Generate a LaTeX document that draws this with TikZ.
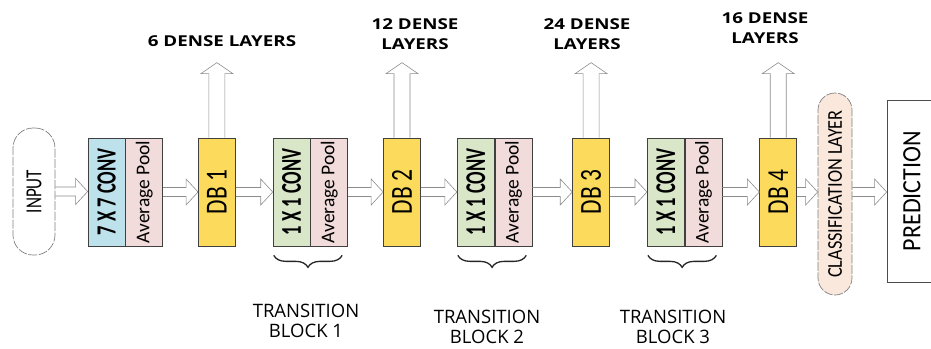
\documentclass[tikz,border=0pt]{standalone}
\usepackage{graphicx}
\usepackage{fontspec}
\setmainfont{Carlito}
\newfontfamily\headfont{Open Sans}
\usetikzlibrary{positioning,calc,decorations.pathreplacing}

\definecolor{convblue}{RGB}{189,226,236}
\definecolor{poolpink}{RGB}{242,220,219}
\definecolor{tranGreen}{RGB}{217,230,200}
\definecolor{dbyellow}{RGB}{251,218,92}
\definecolor{clspeach}{RGB}{250,232,220}

% rotated label, glyphs stretched across the box
\newcommand{\vlab}[2]{\rotatebox{90}{\scalebox{1}[#1]{#2}}}

\begin{document}
\begin{tikzpicture}[x=1pt, y=-1pt,
    blk/.style={draw=black!75, line width=0.7pt, minimum width=37pt, minimum height=108pt, inner sep=0pt},
    pill/.style={draw=gray, dash pattern=on 9pt off 1.5pt, line width=0.7pt, inner sep=0pt},
    conv/.style={font=\fontsize{18.5}{20}\selectfont\bfseries},
    pool/.style={font=\fontsize{19.5}{21}\selectfont},
    db/.style={blk, fill=dbyellow, font=\fontsize{23.5}{25}\selectfont},
    head/.style={font=\headfont\bfseries\fontsize{15}{20}\selectfont, align=center},
    trans/.style={font=\headfont\fontsize{18.5}{20}\selectfont, align=center, inner sep=0pt},
    harrow/.style={draw=gray!90, line width=0.6pt, to path={let \p1=(\tikztostart), \p2=(\tikztotarget) in
        (\x1,\y1+4.5pt) -- (\x2-12pt,\y1+4.5pt) -- (\x2-12pt,\y1+13pt) -- (\x2,\y1)
        -- (\x2-12pt,\y1-13pt) -- (\x2-12pt,\y1-4.5pt) -- (\x1,\y1-4.5pt)}},
    varrow/.style={draw=gray!90, line width=0.6pt, to path={let \p1=(\tikztostart), \p2=(\tikztotarget) in
        (\x1-8pt,\y1) -- (\x1-8pt,\y2-11pt) -- (\x1-16pt,\y2-11pt) -- (\x1,\y2)
        -- (\x1+16pt,\y2-11pt) -- (\x1+8pt,\y2-11pt) -- (\x1+8pt,\y1)}},
    tbrace/.style={draw=black!85, line width=1.3pt, decorate, decoration={brace, mirror, amplitude=12pt}}]
    \useasboundingbox (0,0) rectangle (931,348);

    % Stem
    \node[pill, rounded corners=20pt, minimum width=42pt, minimum height=127pt] (in) at (34,191.5) {\vlab{1.35}{\fontsize{17}{18}\selectfont INPUT}};
    \node[blk, fill=convblue, conv] (c7) at (106.5,192) {\vlab{1.5}{7 X 7 CONV}};
    \node[blk, fill=poolpink, pool, right=0pt of c7] (p0) {\vlab{1.0}{Average Pool}};

    % Dense blocks and transitions
    \node[db, right=35pt of p0] (db1) {\vlab{1.3}{DB 1}};
    \node[blk, fill=tranGreen, conv, right=37pt of db1] (t1c) {\vlab{1.55}{1 X 1 CONV}};
    \node[blk, fill=poolpink, pool, right=0pt of t1c] (t1p) {\vlab{1.0}{Average Pool}};
    \node[db, right=35pt of t1p] (db2) {\vlab{1.3}{DB 2}};
    \node[blk, fill=tranGreen, conv, right=36pt of db2] (t2c) {\vlab{1.55}{1 X 1 CONV}};
    \node[blk, fill=poolpink, pool, right=0pt of t2c] (t2p) {\vlab{1.0}{Average Pool}};
    \node[db, right=40pt of t2p] (db3) {\vlab{1.3}{DB 3}};
    \node[blk, fill=tranGreen, conv, right=37pt of db3] (t3c) {\vlab{1.55}{1 X 1 CONV}};
    \node[blk, fill=poolpink, pool, right=0pt of t3c] (t3p) {\vlab{1.0}{Average Pool}};
    \node[db, right=37pt of t3p] (db4) {\vlab{1.3}{DB 4}};

    % Head
    \node[pill, fill=clspeach, rounded corners=17pt, minimum width=34pt, minimum height=202pt] (cls) at (835,194) {\vlab{1.15}{\fontsize{18.3}{19}\selectfont CLASSIFICATION LAYER}};
    \node[draw=black!70, line width=0.7pt, minimum width=50pt, minimum height=182pt, inner sep=0pt] (pred) at (912,191) {\vlab{1.1}{\fontsize{24}{26}\selectfont PREDICTION}};

    % Flow
    \draw[harrow] (in.east) to (c7.west);
    \draw[harrow] (p0.east) to (db1.west);
    \draw[harrow] (db1.east) to (t1c.west);
    \draw[harrow] (t1p.east) to (db2.west);
    \draw[harrow] (db2.east) to (t2c.west);
    \draw[harrow] (t2p.east) to (db3.west);
    \draw[harrow] (db3.east) to (t3c.west);
    \draw[harrow] (t3p.east) to (db4.west);
    \draw[harrow] (db4.east) to (cls.west |- db4.east);
    \draw[harrow] (cls.east |- db4.east) to (pred.west |- db4.east);

    % Dense layer outputs
    \foreach \d in {1,...,4} {
        \coordinate (u\d) at ($(db\d.north)+(0,-75)$);
        \draw[varrow] (db\d.north) to (u\d);
    }
    \node[head] (h1) at (222,41) {\scalebox{1.25}[1]{6 DENSE LAYERS}};
    \node[head] (h2) at (415,34) {\scalebox{1.25}[1]{12 DENSE}\\\scalebox{1.25}[1]{LAYERS}};
    \node[head] (h3) at (587,34) {\scalebox{1.25}[1]{24 DENSE}\\\scalebox{1.25}[1]{LAYERS}};
    \node[head] (h4) at (765,28) {\scalebox{1.25}[1]{16 DENSE}\\\scalebox{1.25}[1]{LAYERS}};

    % Transition braces
    \draw[tbrace] ($(t1c.south west)+(1,9)$) -- ($(t1p.south east)+(-6,9)$);
    \draw[tbrace] ($(t2c.south west)+(1,9)$) -- ($(t2p.south east)+(-6,9)$);
    \draw[tbrace] ($(t3c.south west)+(1,9)$) -- ($(t3p.south east)+(-6,9)$);
    \node[trans] (b1) at (306,321) {TRANSITION\\BLOCK 1};
    \node[trans] (b2) at (487,327) {TRANSITION\\BLOCK 2};
    \node[trans] (b3) at (673,327) {TRANSITION\\BLOCK 3};
\end{tikzpicture}
\end{document}
